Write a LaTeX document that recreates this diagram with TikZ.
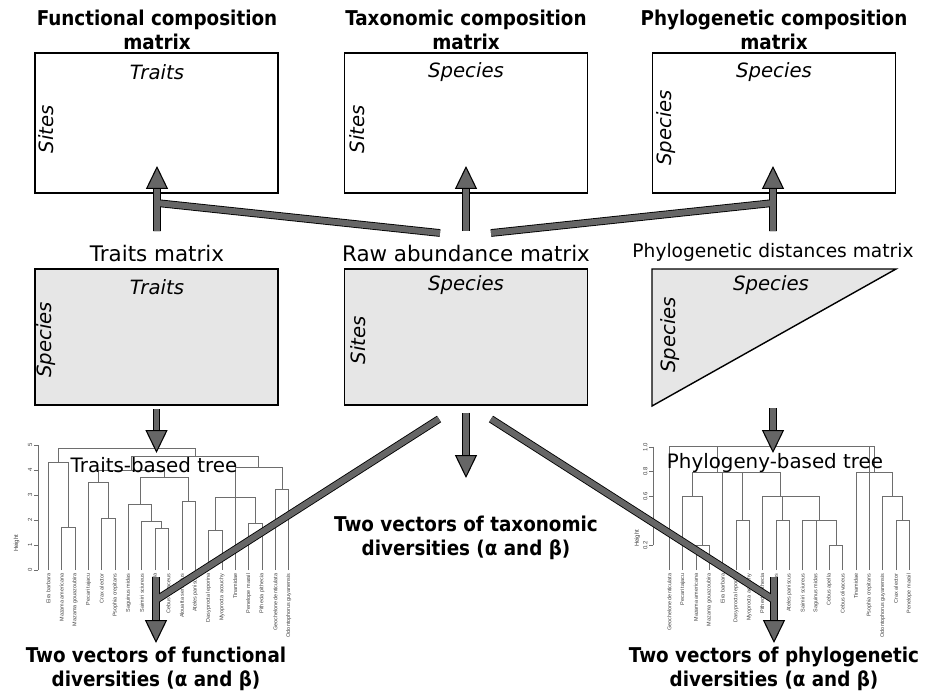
\documentclass[tikz,border=0pt]{standalone}
\usepackage{fontspec}
\setmainfont{DejaVu Sans}
\newfontfamily\condbf{DejaVu Sans Condensed Bold}
\newfontfamily\treefont{Liberation Sans}
\usetikzlibrary{positioning,arrows.meta}
\definecolor{ArrowGray}{RGB}{102,102,102}
\definecolor{MatGray}{RGB}{230,230,230}
\definecolor{TreeGray}{RGB}{110,110,110}

\begin{document}
\begin{tikzpicture}[
	x=0.02cm, y=-0.02cm,
	headline/.style={font=\condbf\fontsize{11.6}{13.4}\selectfont, align=center},
	mattitle/.style={font=\fontsize{12.2}{14}\selectfont},
	matbox/.style={draw, line width=0.8pt, minimum width=4.86cm, minimum height=2.8cm, inner sep=0pt},
	graybox/.style={matbox, fill=MatGray, minimum height=2.72cm},
	axlab/.style={font=\itshape\fontsize{11.2}{13}\selectfont, inner sep=0pt},
	treeline/.style={draw=TreeGray, line width=0.45pt},
	leaflab/.style={font=\treefont\fontsize{3.1}{3.5}\selectfont, text=black!75, rotate=90, anchor=east, inner sep=0pt},
	ticklab/.style={font=\treefont\fontsize{3.4}{4}\selectfont, text=black!75, rotate=90, inner sep=0pt},
	treetitle/.style={font=\fontsize{11.3}{13}\selectfont},
	fatarrow/.style={
		line width=3.4pt,
		draw=ArrowGray,
		-{Triangle[length=13pt,width=12.5pt,fill=ArrowGray,color=black,line width=0.6pt]},
		preaction={draw=black, line width=4.4pt, -, shorten >=6pt}
	}
	]
	
	\useasboundingbox (0,0) rectangle (927,691);
	
	% composition matrices
	\node[headline] (fcmHead) at (157,30) {Functional composition\\matrix};
	\node[headline] (tcmHead) at (466,30) {Taxonomic composition\\matrix};
	\node[headline] (pcmHead) at (774,30) {Phylogenetic composition\\matrix};
	
	\node[matbox] (fcm) at (156.5,123) {};
	\node[matbox] (tcm) at (466,123) {};
	\node[matbox] (pcm) at (774,123) {};
	
	\node[axlab] (fcmTop) at (157,72) {Traits};
	\node[axlab, rotate=90] (fcmSide) at (46,129) {Sites};
	\node[axlab] (tcmTop) at (466,72) {Species};
	\node[axlab, rotate=90] (tcmSide) at (357,129) {Sites};
	\node[axlab] (pcmTop) at (774,72) {Species};
	\node[axlab, rotate=90] (pcmSide) at (666,128) {Species};
	
	% input matrices
	\node[mattitle] (tmatHead) at (157,253) {Traits matrix};
	\node[mattitle] (amatHead) at (466,253) {Raw abundance matrix};
	\node[font=\fontsize{10.6}{12}\selectfont] (dmatHead) at (773,252) {Phylogenetic distances matrix};
	
	\node[graybox] (tmat) at (156.5,337) {};
	\node[graybox] (amat) at (466,337) {};
	\draw[line width=0.8pt, fill=MatGray] (652,269) -- (896,269) -- (652,406) -- cycle;
	\coordinate (dmatBase) at (773,408);
	
	\node[axlab] (tmatTop) at (157,287) {Traits};
	\node[axlab, rotate=90] (tmatSide) at (46,340) {Species};
	\node[axlab] (amatTop) at (466,285) {Species};
	\node[axlab, rotate=90] (amatSide) at (358,340) {Sites};
	\node[axlab] (dmatTop) at (771,285) {Species};
	\node[axlab, rotate=90] (dmatSide) at (670,335) {Species};
	
	% traits-based tree
	\begin{scope}[shift={(0,430)}, scale=1/3]
		\draw[treeline] (115,45) -- (115,420);
		\foreach \h in {0,...,5} {
			\draw[treeline] (115,{420-75*\h}) -- (103,{420-75*\h});
			\node[ticklab] at (90,{420-75*\h}) {\h};
		}
		\node[ticklab] at (50,340) {Height};
		\draw[treeline] (185,420) |- (225,292) -- (225,420);
		\draw[treeline] (145,420) |- (205,97) -- (205,292);
		\draw[treeline] (305,420) |- (345,265) -- (345,420);
		\draw[treeline] (265,420) |- (325,157) -- (325,265);
		\draw[treeline] (465,420) |- (506,296) -- (506,420);
		\draw[treeline] (425,420) |- (485,275) -- (485,296);
		\draw[treeline] (385,420) |- (455,223) -- (455,275);
		\draw[treeline] (546,420) |- (586,213) -- (586,420);
		\draw[treeline] (420,223) |- (566,143) -- (566,213);
		\draw[treeline] (295,157) |- (493,122) -- (493,143);
		\draw[treeline] (626,420) |- (666,300) -- (666,420);
		\draw[treeline] (746,420) |- (786,280) -- (786,420);
		\draw[treeline] (646,300) |- (766,203) -- (766,280);
		\draw[treeline] (706,420) -- (706,203);
		\draw[treeline] (826,420) |- (866,178) -- (866,420);
		\draw[treeline] (706,203) |- (846,112) -- (846,178);
		\draw[treeline] (394,122) |- (776,80) -- (776,112);
		\draw[treeline] (175,97) |- (585,55) -- (585,80);
		\foreach \sp [count=\i from 0] in {Eira barbara, Mazama americana, Mazama gouazoubira,
			Pecari tajacu, Crax alector, Psophia crepitans, Saguinus midas, Saimiri sciureus,
			Cebus apella, Cebus olivaceus, Alouatta seniculus, Ateles paniscus,
			Dasyprocta leporina, Myoprocta acouchy, Tinamidae, Penelope marail,
			Pithecia pithecia, Geochelone denticulata, Odontophorus guyanensis}
		\node[leaflab] (tl\i) at ({145+40.06*\i},430) {\sp};
	\end{scope}
	\node[treetitle] (ttree) at (154,465) {Traits-based tree};
	
	% phylogeny-based tree
	\begin{scope}[shift={(620,430)}, scale=1/3]
		\draw[treeline] (100,50) -- (100,345);
		\foreach \h/\t in {1.0/1.0, 0.8/0.8, 0.6/0.6, 0.2/0.2} {
			\draw[treeline] (100,{420-368.75*\h}) -- (88,{420-368.75*\h});
			\node[ticklab] at (76,{420-368.75*\h}) {\t};
		}
		\draw[treeline] (100,272.5) -- (88,272.5);
		\node[ticklab] at (52,325) {Height};
		\draw[treeline] (228,420) |- (268,345) -- (268,420);
		\draw[treeline] (188,420) |- (248,200) -- (248,345);
		\draw[treeline] (348,420) |- (388,272) -- (388,420);
		\draw[treeline] (468,420) |- (508,272) -- (508,420);
		\draw[treeline] (628,420) |- (668,345) -- (668,420);
		\draw[treeline] (548,420) |- (648,272) -- (648,345);
		\draw[treeline] (588,420) -- (588,272);
		\draw[treeline] (428,420) |- (598,200) -- (598,272);
		\draw[treeline] (488,272) -- (488,200);
		\draw[treeline] (218,200) |- (480,127) -- (480,200);
		\draw[treeline] (308,420) -- (308,127);
		\draw[treeline] (368,272) -- (368,127);
		\draw[treeline] (828,420) |- (868,272) -- (868,420);
		\draw[treeline] (788,420) |- (848,200) -- (848,272);
		\draw[treeline] (708,420) |- (818,127) -- (818,200);
		\draw[treeline] (148,420) |- (763,50) -- (763,127);
		\draw[treeline] (292,127) -- (292,50);
		\draw[treeline] (748,50) -- (748,420);
		\foreach \sp [count=\i from 0] in {Geochelone denticulata, Pecari tajacu, Mazama americana,
			Mazama gouazoubira, Eira barbara, Dasyprocta leporina, Myoprocta acouchy,
			Pithecia pithecia, Alouatta seniculus, Ateles paniscus, Saimiri sciureus,
			Saguinus midas, Cebus apella, Cebus olivaceus, Tinamidae, Psophia crepitans,
			Odontophorus guyanensis, Crax alector, Penelope marail}
		\node[leaflab] (pl\i) at ({148+40*\i},430) {\sp};
	\end{scope}
	\node[treetitle] (ptree) at (775,463) {Phylogeny-based tree};
	
	% outputs
	\node[headline] (tdiv) at (466,538) {Two vectors of taxonomic\\diversities (α and β)};
	\node[headline] (fdiv) at (156,669) {Two vectors of functional\\diversities (α and β)};
	\node[headline] (pdiv) at (774,669) {Two vectors of phylogenetic\\diversities (α and β)};
	
	% arrow ends
	\coordinate (rawTL) at (440,233);
	\coordinate (rawTR) at (491,233);
	\coordinate (fJoin) at (157,203);
	\coordinate (pJoin) at (773,203);
	\coordinate (fBase) at (157,231);
	\coordinate (tBase) at (466,231);
	\coordinate (pBase) at (773,231);
	\coordinate (fTip) at (157,166);
	\coordinate (tTip) at (466,166);
	\coordinate (pTip) at (773,166);
	\coordinate (rawBL) at (439,419);
	\coordinate (rawBR) at (491,419);
	\coordinate (fvJoin) at (156,600);
	\coordinate (pvJoin) at (774,600);
	\coordinate (fvBase) at (156,577);
	\coordinate (pvBase) at (774,577);
	\coordinate (fvTip) at (156,643);
	\coordinate (pvTip) at (774,643);
	\coordinate (ttTip) at (156.5,453);
	\coordinate (ptTip) at (773,453);
	\coordinate (tvTip) at (466,478);
	
	% arrows
	\draw[fatarrow] (fBase) -- (fJoin) (rawTL) -- (fJoin) -- (fTip);
	\draw[fatarrow] (tBase) -- (tTip);
	\draw[fatarrow] (pBase) -- (pJoin) (rawTR) -- (pJoin) -- (pTip);
	
	\draw[fatarrow, shorten <=2pt] (tmat.south) -- (ttTip);
	\draw[fatarrow] (dmatBase) -- (ptTip);
	\draw[fatarrow, shorten <=4pt] (amat.south) -- (tvTip);
	
	\draw[fatarrow] (rawBL) -- (fvJoin) (fvBase) -- (fvTip);
	\draw[fatarrow] (rawBR) -- (pvJoin) (pvBase) -- (pvTip);
	
\end{tikzpicture}
\end{document}
